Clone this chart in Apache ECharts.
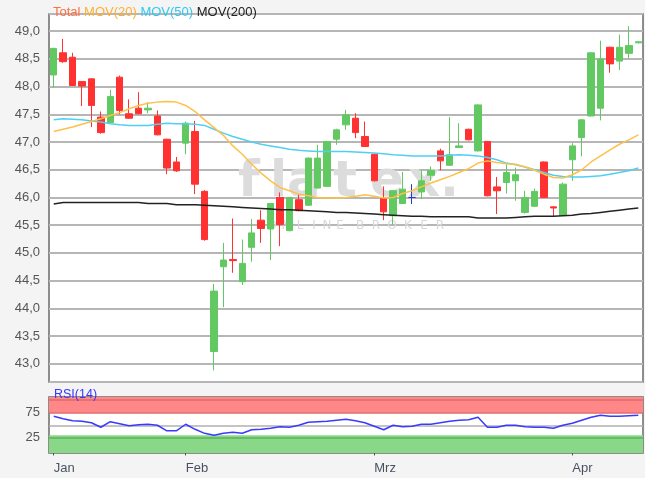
<!DOCTYPE html>
<html><head><meta charset="utf-8">
<script src="https://cdn.jsdelivr.net/npm/echarts@6/dist/echarts.min.js"></script>
<style>html,body{margin:0;padding:0;background:#f4f4f4}#c{width:645px;height:478px}</style>
</head><body><div id="c"></div>
<script>
const opens  = [48.21,48.61,48.53,48.09,48.14,47.45,47.35,48.17,47.51,47.61,47.58,47.47,47.05,46.64,46.98,47.19,46.11,43.22,44.75,44.88,44.48,45.10,45.59,45.43,46.00,45.40,45.96,45.86,46.17,46.20,47.05,47.31,47.43,47.10,46.78,45.98,45.67,45.89,46.00,46.10,46.40,46.84,46.58,46.90,47.23,46.84,47.01,46.19,46.27,46.30,45.73,45.84,46.64,45.83,45.68,46.68,47.08,47.47,47.61,48.71,48.46,48.60,48.79];
const closes = [48.69,48.45,48.02,48.01,47.66,47.17,47.82,47.57,47.43,47.51,47.61,47.13,46.53,46.48,47.34,46.24,45.24,44.31,44.87,44.86,44.81,45.36,45.44,45.89,45.51,46.00,45.76,46.71,46.71,47.01,47.22,47.49,47.17,46.92,46.30,45.74,46.12,46.15,46.00,46.30,46.49,46.66,46.77,46.93,47.04,47.67,46.03,46.12,46.45,46.41,46.00,46.11,46.00,45.81,46.24,46.93,47.40,48.61,48.50,48.41,48.71,48.74,48.81];
const lows   = [47.98,48.43,48.01,47.65,47.27,47.15,47.34,47.50,47.42,47.50,47.52,47.12,46.42,46.46,46.78,46.06,45.22,42.88,44.02,44.64,44.42,44.84,45.18,44.87,45.12,45.39,45.75,45.85,46.16,46.19,46.95,47.22,47.07,46.91,46.29,45.59,45.51,45.88,45.88,45.97,46.30,46.49,46.57,46.90,47.03,46.83,46.02,45.70,46.07,45.94,45.71,45.83,45.99,45.66,45.67,46.30,46.74,47.46,47.39,48.25,48.30,48.51,48.78];
const highs  = [48.70,48.86,48.61,48.10,48.15,47.55,47.94,48.20,47.77,47.90,47.72,47.57,47.06,46.73,47.37,47.38,46.13,44.44,45.18,45.62,45.24,45.61,45.77,45.90,46.09,46.01,46.06,46.72,46.95,47.02,47.24,47.58,47.52,47.37,46.79,46.20,46.13,46.46,46.24,46.49,46.56,46.88,47.45,47.34,47.24,47.68,47.02,46.37,46.60,46.54,46.12,46.16,46.65,45.84,46.27,46.98,47.41,48.62,48.83,48.72,48.94,49.09,48.82];
const ma20   = [47.19,47.23,47.27,47.32,47.37,47.42,47.48,47.53,47.60,47.66,47.70,47.72,47.73,47.72,47.66,47.55,47.40,47.26,47.12,46.93,46.78,46.60,46.44,46.30,46.18,46.12,46.06,46.03,46.00,45.99,45.99,46.00,46.02,46.05,46.02,45.99,46.00,46.07,46.12,46.19,46.26,46.32,46.38,46.45,46.52,46.62,46.66,46.63,46.61,46.60,46.55,46.49,46.42,46.36,46.35,46.41,46.50,46.64,46.75,46.86,46.96,47.04,47.13];
const ma50   = [47.40,47.42,47.41,47.40,47.38,47.36,47.33,47.31,47.30,47.30,47.30,47.32,47.34,47.33,47.33,47.32,47.30,47.23,47.16,47.10,47.05,47.00,46.96,46.93,46.90,46.87,46.85,46.84,46.83,46.83,46.83,46.83,46.82,46.81,46.80,46.79,46.77,46.76,46.75,46.75,46.75,46.75,46.76,46.77,46.76,46.75,46.72,46.68,46.62,46.59,46.55,46.50,46.45,46.40,46.38,46.37,46.37,46.38,46.39,46.42,46.45,46.48,46.53];
const ma200  = [45.88,45.91,45.91,45.91,45.91,45.91,45.91,45.91,45.91,45.91,45.89,45.89,45.89,45.87,45.87,45.87,45.86,45.85,45.84,45.83,45.82,45.81,45.80,45.79,45.78,45.78,45.77,45.76,45.75,45.74,45.73,45.73,45.72,45.71,45.70,45.69,45.68,45.67,45.66,45.66,45.65,45.65,45.65,45.65,45.65,45.63,45.63,45.63,45.63,45.64,45.65,45.66,45.66,45.66,45.67,45.68,45.70,45.71,45.73,45.75,45.77,45.79,45.81];
const rsi    = [68,63,59,58,55,46,57,53,49,51,52,50,39,39,52,42,34,30,34,36,34,41,42,44,47,46,50,56,57,58,60,62,59,55,48,41,50,47,48,52,52,55,58,60,61,66,46,46,50,50,47,46,46,44,50,54,60,66,70,68,68,69,70];
const tickIndex  = [0, 14, 34, 55];
const tickLabels = ['Jan', 'Feb', 'Mrz', 'Apr'];
const dojiIndex  = [38];
const categories = opens.map((_, i) => String(i));

const FONT = 'Liberation Sans, Arial, sans-serif';
const GREEN = '#62c962', RED = '#ff3131', BLUE = '#3434d0';

const candleData = categories.map((_, i) => {
  const v = [opens[i], closes[i], lows[i], highs[i]];
  if (dojiIndex.includes(i)) {
    return { value: v, itemStyle: { color: BLUE, color0: BLUE, borderColor: BLUE, borderColor0: BLUE } };
  }
  return v;
});

const showTick = (i) => tickIndex.includes(i);

const chart = echarts.init(document.getElementById('c'), null, { renderer: 'canvas' });

const wmLetters = [['f',238],['l',270],['a',287],['t',333],['e',370],['x',408],['.',440]];
const wmSmall = [['O',272],['N',286],['L',300],['I',314],['N',327],['E',340],['B',360],['R',376],['O',392],['K',408],['E',424],['R',440]];
const graphic = [];
wmLetters.forEach(([t, x]) => graphic.push({ type: 'text', z: 1, silent: true,
  style: { text: t, x: x, y: 183, verticalAlign: 'middle', font: 'bold 50px DejaVu Sans', fill: '#dcdcdc' } }));
wmSmall.forEach(([t, x]) => graphic.push({ type: 'text', z: 1, silent: true,
  style: { text: t, x: x, y: 226, verticalAlign: 'middle', align: 'center', font: '12px DejaVu Sans', fill: '#d8d8d8' } }));

const option = {
  animation: false,
  backgroundColor: '#f4f4f4',
  textStyle: { fontFamily: FONT },
  title: [
    { left: 48, top: 1, text: '{a|Total} {b|MOV(20)} {c|MOV(50)} {d|MOV(200)}',
      textStyle: { fontSize: 13, fontWeight: 'normal', fontFamily: FONT,
        rich: { a: { color: '#ff7040', fontSize: 13 }, b: { color: '#ffb030', fontSize: 13 },
                c: { color: '#30c8f0', fontSize: 13 }, d: { color: '#222222', fontSize: 13 } } } },
    { left: 49, top: 383, text: 'RSI(14)', textStyle: { fontSize: 12.5, fontWeight: 'normal', color: '#3636ff', fontFamily: FONT } }
  ],
  graphic: graphic,
  grid: [
    { left: 49, right: 2, top: 14, height: 368, show: true, backgroundColor: '#ffffff', borderColor: '#6a6a6a', borderWidth: 1.5 },
    { left: 49, right: 2, top: 397, height: 56, show: true, backgroundColor: '#ffffff', borderColor: '#6a6a6a', borderWidth: 1.5 }
  ],
  xAxis: [
    { gridIndex: 0, type: 'category', data: categories, boundaryGap: true,
      axisLine: { show: false }, axisTick: { show: false }, axisLabel: { show: false }, splitLine: { show: false } },
    { gridIndex: 1, type: 'category', data: categories, boundaryGap: true,
      axisLine: { show: false },
      axisTick: { show: true, alignWithLabel: true, interval: showTick, length: 5, lineStyle: { color: '#555', width: 1 } },
      axisLabel: { interval: showTick, formatter: (v, i) => tickLabels[tickIndex.indexOf(i)] || '',
        align: 'left', margin: 9, color: '#4a5262', fontSize: 13, fontFamily: FONT },
      splitLine: { show: false } }
  ],
  yAxis: [
    { gridIndex: 0, type: 'value', min: 42.67, max: 49.31, minInterval: 0.5, maxInterval: 0.5, splitNumber: 13,
      axisLine: { show: false }, axisTick: { show: false },
      axisLabel: { showMinLabel: false, showMaxLabel: false, formatter: v => v.toFixed(1).replace('.', ','),
        color: '#555', fontSize: 13, margin: 9, fontFamily: FONT },
      splitLine: { lineStyle: { color: '#b6b6b6', width: 2 } } },
    { gridIndex: 1, type: 'value', min: -5, max: 106, minInterval: 25, maxInterval: 25,
      axisLine: { show: false }, axisTick: { show: false },
      axisLabel: { showMinLabel: false, showMaxLabel: false, formatter: v => (v === 25 || v === 75) ? String(v) : '',
        color: '#555', fontSize: 13, margin: 9, fontFamily: FONT },
      splitLine: { show: false } }
  ],
  series: [
    { type: 'candlestick', xAxisIndex: 0, yAxisIndex: 0, data: candleData, barWidth: 7, z: 2,
      itemStyle: { color: GREEN, color0: RED, borderColor: GREEN, borderColor0: RED, borderWidth: 1 } },
    { type: 'line', xAxisIndex: 0, yAxisIndex: 0, data: ma200, showSymbol: false, z: 3,
      lineStyle: { color: '#222222', width: 1.5 } },
    { type: 'line', xAxisIndex: 0, yAxisIndex: 0, data: ma50, showSymbol: false, z: 3,
      lineStyle: { color: '#4fd0f2', width: 1.5 } },
    { type: 'line', xAxisIndex: 0, yAxisIndex: 0, data: ma20, showSymbol: false, z: 3,
      lineStyle: { color: '#ffc04a', width: 1.5 } },
    { type: 'line', xAxisIndex: 1, yAxisIndex: 1, data: rsi, showSymbol: false, z: 4,
      lineStyle: { color: '#3a3aff', width: 1.5 },
      markArea: { silent: true, z: 1, data: [
        [{ yAxis: 75, itemStyle: { color: '#ff8787', opacity: 1 } }, { yAxis: 106 }],
        [{ yAxis: -5, itemStyle: { color: '#88d888', opacity: 1 } }, { yAxis: 30 }]
      ] },
      markLine: { silent: true, symbol: 'none', z: 2, label: { show: false }, data: [
        { yAxis: 100, lineStyle: { color: '#e06a6a', width: 1.5, type: 'solid' } },
        { yAxis: 75, lineStyle: { color: '#e06a6a', width: 1.5, type: 'solid' } },
        { yAxis: 50, lineStyle: { color: '#b0b0b0', width: 1.5, type: 'solid' } },
        { yAxis: 25, lineStyle: { color: '#5cb35c', width: 1.5, type: 'solid' } }
      ] } }
  ]
};
chart.setOption(option);
</script></body></html>
